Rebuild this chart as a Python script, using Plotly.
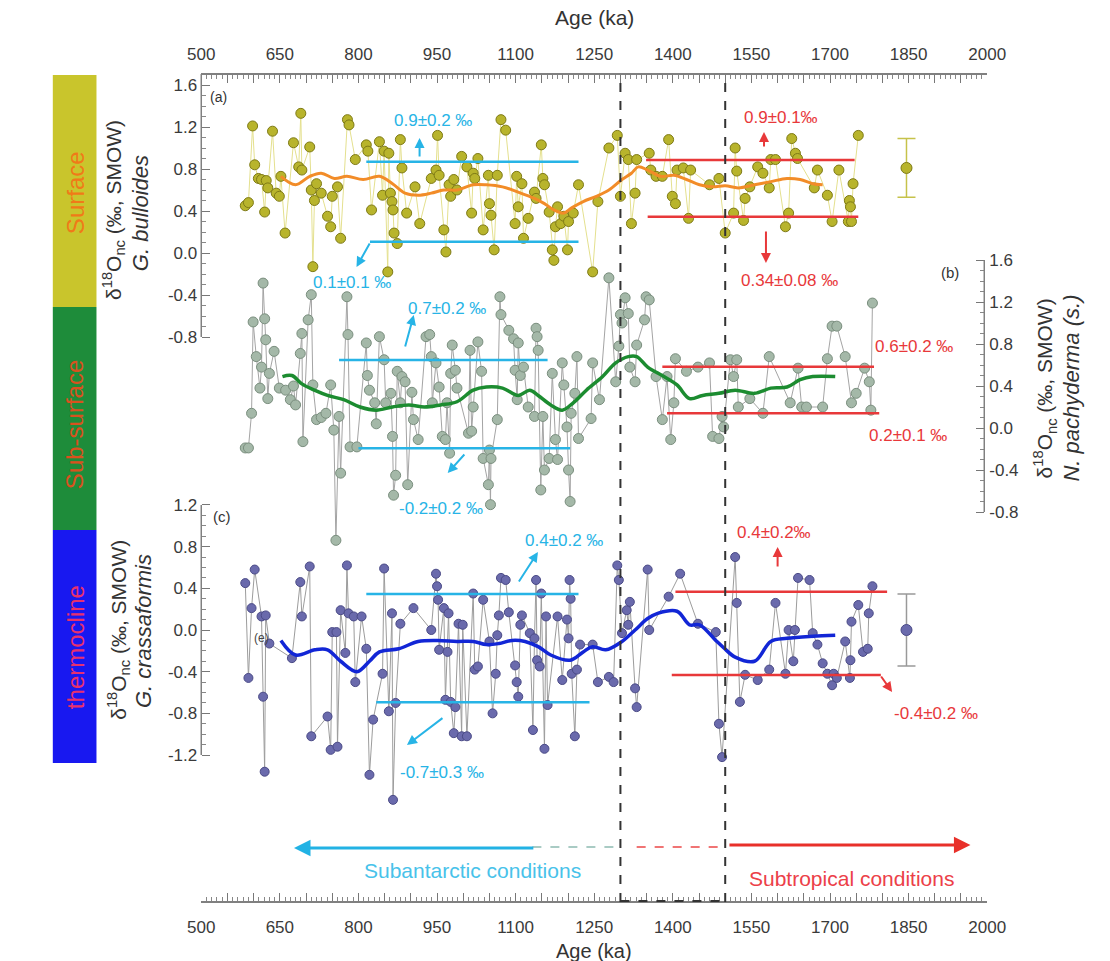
import plotly.graph_objects as go
import numpy as np

W, H = 1110, 961
X0PX, X1PX = 193, 1003      # plot area horizontal extent (px)
YTOP, YBOT = 74, 902        # plot area vertical extent (px)
XMIN, XMAX = 500, 2000
SCALE = (X1PX - X0PX) / (XMAX - XMIN)


def pxx(x):
    return x / W


def pxy(y):
    return 1 - y / H


FONT = "Liberation Sans, Arial, sans-serif"

# ---------------- data ----------------
# (a) Surface: G. bulloides
age_a = [584, 590, 598, 602, 609, 615, 621, 624, 627, 636,
         643, 649, 652, 660, 676, 686, 690, 692, 707, 710,
         713, 716, 720, 729, 741, 747, 750, 760, 766, 779,
         782, 794, 815, 818, 825, 840, 846, 849, 856, 858,
         861, 864, 866, 868, 874, 880, 883, 892, 908, 917,
         939, 948, 951, 954, 963, 967, 973, 976, 982, 988,
         997, 1007, 1016, 1019, 1022, 1028, 1038, 1048, 1050, 1053,
         1059, 1065, 1072, 1081, 1099, 1102, 1105, 1112, 1115, 1124,
         1136, 1139, 1149, 1152, 1155, 1164, 1170, 1173, 1176, 1180,
         1186, 1192, 1199, 1201, 1210, 1220, 1247, 1257, 1278, 1294,
         1300, 1309, 1315, 1321, 1328, 1331, 1355, 1358, 1368, 1380,
         1392, 1399, 1405, 1408, 1420, 1430, 1434, 1470, 1488, 1500,
         1516, 1519, 1522, 1535, 1538, 1547, 1562, 1572, 1584, 1587,
         1596, 1615, 1621, 1627, 1634, 1638, 1670, 1676, 1695, 1704,
         1717, 1735, 1737, 1739, 1741, 1744, 1754]
d18o_a = [0.45, 0.48, 1.21, 0.84, 0.71, 0.70, 0.39, 0.69, 0.62, 1.16,
          0.57, 0.54, 0.73, 0.19, 1.05, 0.82, 1.33, 0.79, 1.01, 0.60,
          -0.13, 0.50, 0.66, 0.57, 0.35, 0.25, 0.54, 0.63, 0.14, 1.27,
          1.22, 0.89, 1.03, 0.97, 0.41, 1.06, 0.55, 0.97, -0.18, 0.95,
          0.57, 0.49, 0.41, 0.19, 0.09, 1.08, 0.81, 0.38, 0.63, 0.28,
          0.71, 0.79, 1.12, 0.74, 0.22, 0.01, 0.65, 0.54, 0.70, 0.60,
          0.92, 0.82, 0.38, 0.76, 0.71, 0.90, 0.22, 0.74, 0.47, 0.36,
          0.03, 0.74, 1.27, 1.17, 0.28, 0.73, 0.44, 0.66, 0.14, 0.33,
          0.58, 0.52, 1.03, 0.71, 0.65, 0.39, 0.03, -0.07, 0.25, 0.44,
          0.28, 0.35, 0.03, 0.30, 0.38, 0.65, -0.18, 0.49, 1.00, 1.12,
          0.54, 0.95, 0.89, 0.28, 0.57, 0.89, 0.95, 0.79, 0.73, 0.73,
          1.08, 0.54, 0.47, 0.79, 0.81, 0.33, 0.79, 0.65, 0.71, 0.19,
          0.38, 1.00, 0.78, 0.31, 0.52, 0.63, 0.82, 0.76, 0.62, 0.89,
          0.89, 0.25, 0.38, 1.09, 0.95, 0.90, 0.62, 0.79, 0.55, 0.30,
          0.79, 0.30, 0.50, 0.44, 0.30, 0.66, 1.12]
smooth_age_a = [652, 680, 707, 729, 754, 778, 809, 840, 865, 889,
                914, 939, 963, 988, 1019, 1044, 1075, 1105, 1136, 1155,
                1173, 1192, 1207, 1229, 1254, 1278, 1303, 1321, 1334, 1352,
                1377, 1402, 1426, 1451, 1476, 1500, 1525, 1556, 1587, 1618,
                1643, 1667, 1686]
smooth_a = [0.73, 0.65, 0.73, 0.76, 0.71, 0.73, 0.70, 0.73, 0.66, 0.57,
            0.55, 0.57, 0.60, 0.60, 0.65, 0.65, 0.63, 0.58, 0.52, 0.47,
            0.41, 0.38, 0.43, 0.49, 0.54, 0.60, 0.70, 0.76, 0.82, 0.79,
            0.73, 0.74, 0.70, 0.65, 0.63, 0.64, 0.62, 0.65, 0.68, 0.71,
            0.70, 0.66, 0.65]

# (b) Sub-surface: N. pachyderma (s.)
age_b = [584, 590, 596, 599, 605, 612, 615, 618, 621, 623,
         627, 630, 639, 649, 661, 670, 676, 680, 689, 692,
         694, 704, 710, 713, 720, 729, 738, 747, 753, 757,
         763, 766, 778, 780, 784, 797, 815, 817, 821, 831,
         834, 840, 849, 852, 862, 865, 867, 871, 874, 880,
         883, 889, 894, 902, 905, 914, 929, 936, 939, 941,
         948, 954, 960, 966, 969, 974, 976, 979, 985, 988,
         1010, 1013, 1016, 1019, 1028, 1035, 1038, 1048, 1050, 1052,
         1053, 1065, 1070, 1072, 1087, 1096, 1099, 1103, 1105, 1109,
         1115, 1124, 1136, 1139, 1141, 1143, 1148, 1152, 1155, 1164,
         1170, 1176, 1180, 1189, 1192, 1198, 1201, 1204, 1206, 1213,
         1217, 1220, 1244, 1247, 1260, 1278, 1291, 1297, 1300, 1303,
         1309, 1315, 1318, 1328, 1331, 1346, 1349, 1355, 1368, 1380,
         1389, 1396, 1402, 1405, 1426, 1448, 1470, 1476, 1488, 1494,
         1497, 1510, 1516, 1522, 1525, 1547, 1572, 1584, 1624, 1639,
         1646, 1655, 1686, 1695, 1704, 1713, 1729, 1741, 1750, 1766,
         1775, 1778, 1781]
d18o_b = [-0.19, -0.19, 0.14, 1.01, 0.68, 0.38, 0.58, 1.38, 1.04, 0.84,
          0.28, 0.52, 0.73, 0.38, 0.36, 0.27, 0.40, 0.22, 0.71, 0.90,
          -0.13, 1.03, 1.27, 0.41, 0.08, 0.10, 0.14, 0.41, -0.02, -1.07,
          0.11, -0.43, 1.25, 0.89, -0.18, -0.18, 0.81, 0.50, 0.36, 0.24,
          0.04, 0.87, 0.65, 0.24, 0.33, -0.08, -0.64, -0.45, 0.54, 0.24,
          0.49, 0.44, -0.54, 0.34, 0.08, -0.11, 0.87, 0.89, 0.68, 0.24,
          0.62, 0.39, -0.08, -0.11, 0.24, -0.24, 0.52, 0.79, 0.55, 0.38,
          -0.05, 0.74, -0.03, 0.20, 0.82, 0.54, -0.29, -0.54, -0.21, -0.73,
          -0.29, 0.08, 1.25, 1.08, 0.93, 0.85, 0.55, 0.27, 0.81, 0.50,
          0.58, 0.20, 0.11, 0.95, 0.87, 0.74, -0.59, 0.11, -0.40, -0.29,
          0.52, -0.11, -0.30, 0.62, 0.41, 0.01, -0.40, -0.70, 0.14, 0.33,
          0.68, -0.10, 0.09, 0.62, 0.27, 1.43, 0.44, 0.78, 1.08, 1.00,
          1.24, 1.09, 0.58, 0.44, 0.79, 1.03, 1.25, 1.22, 0.49, 0.08,
          0.49, -0.11, 0.24, 0.66, 0.54, 0.58, 0.62, -0.08, -0.10, 0.11,
          0.01, 0.65, 0.49, 0.65, 0.20, 0.28, 0.14, 0.68, 0.24, 0.57,
          0.20, 0.20, 0.20, 0.66, 0.97, 0.97, 0.68, 0.24, 0.33, 0.57,
          0.44, 0.17, 1.19]
smooth_age_b = [655, 673, 692, 716, 741, 772, 803, 834, 865, 896,
                926, 957, 988, 1019, 1044, 1075, 1105, 1127, 1143, 1167,
                1189, 1210, 1235, 1266, 1291, 1315, 1331, 1352, 1383, 1408,
                1432, 1457, 1488, 1519, 1556, 1587, 1618, 1643, 1667, 1710]
smooth_b = [0.49, 0.50, 0.42, 0.36, 0.31, 0.27, 0.20, 0.17, 0.20, 0.22,
            0.20, 0.22, 0.25, 0.36, 0.39, 0.38, 0.31, 0.36, 0.31, 0.22,
            0.17, 0.24, 0.36, 0.49, 0.62, 0.68, 0.68, 0.58, 0.49, 0.41,
            0.28, 0.31, 0.33, 0.36, 0.33, 0.38, 0.39, 0.46, 0.49, 0.49]

# (c) Thermocline: G. crassaformis
age_c = [584, 590, 596, 602, 615, 618, 621, 623, 630, 673,
         689, 692, 707, 710, 741, 747, 750, 758, 760, 766,
         775, 778, 781, 791, 794, 806, 815, 821, 828, 846,
         849, 858, 864, 866, 871, 880, 905, 939, 948, 950,
         952, 954, 963, 966, 970, 972, 976, 982, 985, 991,
         997, 999, 1007, 1019, 1022, 1028, 1038, 1050, 1056, 1062,
         1065, 1068, 1072, 1081, 1087, 1099, 1102, 1105, 1109, 1112,
         1127, 1133, 1136, 1139, 1141, 1146, 1149, 1155, 1158, 1161,
         1180, 1189, 1198, 1201, 1203, 1205, 1207, 1213, 1217, 1223,
         1247, 1257, 1278, 1287, 1294, 1297, 1303, 1312, 1315, 1318,
         1328, 1331, 1352, 1355, 1392, 1414, 1448, 1482, 1488, 1494,
         1519, 1522, 1528, 1538, 1562, 1584, 1596, 1615, 1621, 1630,
         1633, 1639, 1661, 1667, 1676, 1686, 1695, 1704, 1707, 1713,
         1729, 1738, 1739, 1741, 1754, 1763, 1772, 1774, 1781]
d18o_c = [0.45, -0.46, 0.21, 0.58, 0.13, -0.64, -1.36, 0.14, -0.13, -0.27,
          0.46, 0.13, 0.61, -1.02, -0.83, -1.15, -0.02, -0.02, -1.12, 0.19,
          -0.22, 0.62, 0.16, 0.13, -0.50, 0.13, -0.18, -1.39, -0.86, -0.42,
          0.59, -0.78, 0.16, -1.63, -0.70, 0.06, 0.21, 0.00, 0.54, 0.42,
          0.29, -0.19, 0.21, -0.67, -0.21, 0.16, -0.69, -0.99, -0.74, 0.06,
          -1.02, 0.05, -1.02, 0.35, -0.38, -0.35, 0.29, -0.11, -0.80, -0.42,
          -0.05, 0.14, 0.50, 0.48, 0.17, -0.34, -0.50, -0.64, 0.05, 0.14,
          -0.03, -0.96, -0.08, 0.48, -0.29, -0.35, 0.35, -1.14, 0.13, -0.72,
          0.13, -0.48, 0.10, -0.08, 0.48, 0.30, -0.42, -1.02, -0.38, -0.14,
          -0.14, -0.50, -0.45, -0.50, 0.62, 0.48, -0.03, 0.19, 0.05, 0.27,
          -0.56, -0.74, 0.58, 0.00, 0.32, 0.54, 0.06, -0.02, -0.90, -1.22,
          0.70, 0.26, -0.69, -0.43, -0.48, -0.38, 0.26, -0.42, 0.00, -0.30,
          0.00, 0.50, 0.48, -0.03, -0.14, -0.32, -0.42, -0.53, -0.42, -0.46,
          -0.11, -0.46, -0.29, 0.08, 0.24, -0.21, -0.18, 0.16, 0.42]
smooth_age_c = [652, 680, 717, 741, 766, 797, 821, 840, 877, 914,
                951, 988, 1019, 1044, 1068, 1093, 1118, 1143, 1167, 1204,
                1229, 1247, 1272, 1303, 1328, 1352, 1371, 1408, 1432, 1451,
                1482, 1497, 1519, 1556, 1587, 1618, 1667, 1710]
smooth_c = [-0.10, -0.24, -0.19, -0.19, -0.30, -0.40, -0.30, -0.21, -0.18, -0.11,
            -0.10, -0.11, -0.11, -0.14, -0.13, -0.10, -0.11, -0.16, -0.24, -0.29,
            -0.21, -0.16, -0.19, -0.11, 0.00, 0.11, 0.16, 0.18, 0.05, 0.05,
            -0.10, -0.17, -0.26, -0.30, -0.11, -0.08, -0.06, -0.05]

# mean levels (start age, end age, value) for each period
levels_a_sub = [(815, 1220, 0.87), (822, 1220, 0.107)]
levels_a_trop = [(1349, 1747, 0.886), (1352, 1754, 0.346)]
levels_b_sub = [(763, 1161, 0.648), (800, 1204, -0.194)]
levels_b_trop = [(1380, 1784, 0.584), (1389, 1794, 0.14)]
levels_c_sub = [(815, 1220, 0.346), (834, 1241, -0.694)]
levels_c_trop = [(1405, 1809, 0.368), (1398, 1797, -0.432)]

# analytical error examples
err_age = [1846]
err_a_mean, err_a_sd = [0.81], [0.28]
err_c_mean, err_c_sd = [0.0], [0.345]

# transition boundaries and condition arrows (ka)
transition = [1300, 1500]
cond_sub = (677, 1123)          # (arrow head, tail)
cond_sub_dash = (1132, 1299)
cond_trop_dash = (1331, 1500)
cond_trop = (1519, 1968)        # (tail, arrow head)

# ---------------- colours ----------------
CYAN = "#27b4e6"
RED = "#e8383a"

# ---------------- axes pixel mapping ----------------
A_ZERO, A_PPU = 253, 105.0
B_ZERO, B_PPU = 428, 105.0
C_ZERO, C_PPU = 630, 104.2
rangeA = [(A_ZERO - YBOT) / A_PPU, (A_ZERO - YTOP) / A_PPU]
rangeB = [(B_ZERO - YBOT) / B_PPU, (B_ZERO - YTOP) / B_PPU]
rangeC = [(C_ZERO - YBOT) / C_PPU, (C_ZERO - YTOP) / C_PPU]

fig = go.Figure()

# dummy (invisible) trace so the top axis is drawn
fig.add_trace(go.Scatter(x=age_a, y=d18o_a, xaxis="x2", yaxis="y", mode="markers",
                         marker=dict(opacity=0), hoverinfo="skip", showlegend=False))

# panel a
fig.add_trace(go.Scatter(x=age_a, y=d18o_a, yaxis="y", mode="lines+markers",
                         line=dict(color="#e4e08e", width=1),
                         marker=dict(size=10, color="#b8b42c", line=dict(color="#7e7a16", width=1)),
                         showlegend=False))
# panel b
fig.add_trace(go.Scatter(x=age_b, y=d18o_b, yaxis="y2", mode="lines+markers",
                         line=dict(color="#a4a4a4", width=1),
                         marker=dict(size=10, color="#a4b8a8", line=dict(color="#7a8e7e", width=1)),
                         showlegend=False))
# panel c
fig.add_trace(go.Scatter(x=age_c, y=d18o_c, yaxis="y3", mode="lines+markers",
                         line=dict(color="#9c9c9c", width=1),
                         marker=dict(size=9, color="#6a6aac", line=dict(color="#4a4a86", width=1)),
                         showlegend=False))

# smoothed curves
fig.add_trace(go.Scatter(x=smooth_age_a, y=smooth_a, yaxis="y", mode="lines",
                         line=dict(color="#f28c28", width=3, shape="spline"), showlegend=False))
fig.add_trace(go.Scatter(x=smooth_age_b, y=smooth_b, yaxis="y2", mode="lines",
                         line=dict(color="#1c8c30", width=3.5, shape="spline"), showlegend=False))
fig.add_trace(go.Scatter(x=smooth_age_c, y=smooth_c, yaxis="y3", mode="lines",
                         line=dict(color="#1226d6", width=3.5, shape="spline"), showlegend=False))

# mean levels
for lv, ax_, col in [(levels_a_sub, "y", CYAN), (levels_a_trop, "y", RED),
                     (levels_b_sub, "y2", CYAN), (levels_b_trop, "y2", RED),
                     (levels_c_sub, "y3", CYAN), (levels_c_trop, "y3", RED)]:
    for x0, x1, v in lv:
        fig.add_trace(go.Scatter(x=[x0, x1], y=[v, v], yaxis=ax_, mode="lines",
                                 line=dict(color=col, width=2.5), showlegend=False,
                                 hoverinfo="skip"))

# error bars
fig.add_trace(go.Scatter(x=err_age, y=err_a_mean, yaxis="y", mode="markers",
                         error_y=dict(type="data", array=err_a_sd, color="#c6c24a", thickness=1.5, width=9),
                         marker=dict(size=11, color="#b8b42c", line=dict(color="#7e7a16", width=1)),
                         showlegend=False))
fig.add_trace(go.Scatter(x=err_age, y=err_c_mean, yaxis="y3", mode="markers",
                         error_y=dict(type="data", array=err_c_sd, color="#999999", thickness=1.5, width=9),
                         marker=dict(size=11, color="#6a6aac", line=dict(color="#4a4a86", width=1)),
                         showlegend=False))

# ---------------- axes ----------------
xt = list(range(XMIN, XMAX + 1, 50))
xtt = [str(v) if (v - XMIN) % 150 == 0 else "" for v in xt]
tickfont = dict(family=FONT, size=17, color="#3a3a3a")
xcommon = dict(range=[XMIN, XMAX], tickmode="array", tickvals=xt, ticktext=xtt,
               ticks="inside", ticklen=8, tickwidth=1, tickcolor="#777",
               showline=True, linecolor="#808080", linewidth=1.5, showgrid=False,
               zeroline=False, tickfont=tickfont,
               minor=dict(tickmode="linear", tick0=XMIN, dtick=10, ticks="inside",
                          ticklen=4, tickcolor="#888", showgrid=False))


def ytick(lo, hi, step=0.4):
    n = int(round((hi - lo) / step))
    return [round(lo + i * step, 2) for i in range(n + 1)]


def yminor(lo, hi):
    n = int(round((hi - lo) / 0.1))
    return [round(lo + i * 0.1, 2) for i in range(n + 1)]


ta = ytick(-0.8, 1.6)
tb = ytick(-0.8, 1.6)
tc = ytick(-1.2, 1.2)


def yax(rng, tv, minor_hi, lo):
    return dict(range=rng, tickmode="array", tickvals=tv,
                ticktext=[f"{v:.1f}" for v in tv], ticks="inside", ticklen=8,
                tickwidth=1, tickcolor="#777", showline=False, showgrid=False,
                zeroline=False, tickfont=tickfont, ticklabelstandoff=4,
                minor=dict(tickmode="array", tickvals=yminor(lo, minor_hi), ticks="inside",
                           ticklen=4, tickcolor="#888", showgrid=False))


dom = [pxy(YBOT), pxy(YTOP)]
ya = yax(rangeA, ta, 1.7, -0.8)
ya.update(domain=dom, anchor="free", position=pxx(X0PX), side="left")
yb = yax(rangeB, tb, 1.6, -0.8)
yb.update(overlaying="y", anchor="free", position=pxx(1000), side="right")
yc = yax(rangeC, tc, 1.2, -1.2)
yc.update(overlaying="y", anchor="free", position=pxx(X0PX), side="left")

xa = dict(xcommon)
xa.update(domain=[pxx(X0PX), pxx(X1PX)], anchor="free", position=pxy(YBOT), side="bottom",
          ticklabelstandoff=10)
xb = dict(xcommon)
xb.update(overlaying="x", anchor="free", position=pxy(YTOP), side="top",
          ticklabelstandoff=6)

# ---------------- shapes ----------------
shapes = []
AX = dict(color="#808080", width=1.5)
shapes.append(dict(type="line", xref="paper", yref="y", x0=pxx(X0PX), x1=pxx(X0PX),
                   y0=-0.8, y1=rangeA[1], line=AX))
shapes.append(dict(type="line", xref="paper", yref="y2", x0=pxx(1000), x1=pxx(1000),
                   y0=-0.8, y1=1.6, line=AX))
shapes.append(dict(type="line", xref="paper", yref="y3", x0=pxx(X0PX), x1=pxx(X0PX),
                   y0=-1.2, y1=1.2, line=AX))
# transition boundaries
for t in transition:
    shapes.append(dict(type="line", xref="x", yref="paper", x0=t, x1=t,
                       y0=pxy(YBOT), y1=pxy(YTOP + 2),
                       line=dict(color="#333333", width=2, dash="dash")))
shapes.append(dict(type="line", xref="x", yref="paper", x0=transition[0], x1=transition[1],
                   y0=pxy(YBOT - 1), y1=pxy(YBOT - 1),
                   line=dict(color="#333333", width=2, dash="dash")))
# condition dashed lines
YCOND = 847
shapes.append(dict(type="line", xref="x", yref="paper", x0=cond_sub_dash[0], x1=cond_sub_dash[1],
                   y0=pxy(YCOND), y1=pxy(YCOND), line=dict(color="#a9cbc4", width=2, dash="dash")))
shapes.append(dict(type="line", xref="x", yref="paper", x0=cond_trop_dash[0], x1=cond_trop_dash[1],
                   y0=pxy(YCOND), y1=pxy(YCOND), line=dict(color="#f07474", width=2, dash="dash")))
# left colour bars
bars = [(75, 307, "#c9c52c"), (307, 530, "#1e8c3a"), (530, 763, "#1818f0")]
for y0, y1, c in bars:
    shapes.append(dict(type="rect", xref="paper", yref="paper", x0=pxx(40), x1=pxx(85),
                       y0=pxy(y1), y1=pxy(y0), fillcolor=c, line=dict(width=0)))

# ---------------- annotations ----------------
ann = []


def text(x, y, s, color="#333", size=16, angle=0, xanchor="center"):
    ann.append(dict(x=pxx(x), y=pxy(y), xref="paper", yref="paper", text=s, showarrow=False,
                    textangle=angle, xanchor=xanchor, yanchor="middle",
                    font=dict(family=FONT, size=size, color=color)))


def arrow(hx, hy, tx, ty, color, width=2, size=1.0):
    ann.append(dict(x=pxx(hx), y=pxy(hy), xref="paper", yref="paper", text="",
                    ax=tx - hx, ay=ty - hy, showarrow=True, arrowhead=2, arrowsize=size,
                    arrowwidth=width, arrowcolor=color, standoff=0))


# axis titles
text(598, 17, "Age (ka)", "#333", 21)
text(598, 951, "Age (ka)", "#333", 20)
text(102, 210, "δ<sup>18</sup>O<sub>nc</sub> (‰, SMOW)", "#333", 21, -90)
text(130, 213, "<i>G. bulloides</i>", "#333", 22, -90)
text(107, 630, "δ<sup>18</sup>O<sub>nc</sub> (‰, SMOW)", "#333", 21, -90)
text(133, 631, "<i>G. crassaformis</i>", "#333", 22, -90)
text(1063, 388, "δ<sup>18</sup>O<sub>nc</sub> (‰, SMOW)", "#333", 21, -90)
text(1090, 388, "<i>N. pachyderma (s.)</i>", "#333", 22, -90)

# water-mass labels
text(63, 193, "Surface", "#f07a18", 24, -90)
text(63, 425, "Sub-surface", "#d8521e", 24, -90)
text(63, 647, "thermocline", "#e8306e", 24, -90)

# panel labels
text(211, 97, "(a)", "#333", 14)
text(965, 272, "(b)", "#333", 15)
text(214, 516, "(c)", "#333", 15)
text(255, 638, "(e)", "#444", 12)

# cyan (subantarctic) mean labels
text(432, 120, "0.9±0.2 ‰", CYAN, 17)
text(348, 282, "0.1±0.1 ‰", CYAN, 17)
text(446, 308, "0.7±0.2 ‰", CYAN, 17)
text(440, 508, "-0.2±0.2 ‰", CYAN, 17)
text(567, 540, "0.4±0.2 ‰", CYAN, 17)
text(441, 772, "-0.7±0.3 ‰", CYAN, 17)
# red (subtropical) mean labels
text(790, 117, "0.9±0.1‰", RED, 17)
text(799, 280, "0.34±0.08 ‰", RED, 17)
text(928, 347, "0.6±0.2 ‰", RED, 17)
text(921, 435, "0.2±0.1 ‰", RED, 17)
text(783, 532, "0.4±0.2‰", RED, 17)
text(950, 713, "-0.4±0.2 ‰", RED, 17)

# small arrows
arrow(418, 138, 418, 158, CYAN)
arrow(353, 267, 367, 242, CYAN)
arrow(412, 315, 403, 348, CYAN)
arrow(447, 473, 465, 453, CYAN)
arrow(540, 552, 520, 583, CYAN)
arrow(405, 745, 442, 717, CYAN)
arrow(773, 132, 773, 148, RED)
arrow(775, 263, 775, 230, RED)
arrow(787, 547, 787, 568, RED)
arrow(905, 692, 893, 675, RED)

# condition arrows
ann.append(dict(x=cond_sub[0], y=pxy(YCOND + 1), xref="x", yref="paper", text="",
                ax=(cond_sub[1] - cond_sub[0]) * SCALE, ay=0, showarrow=True, arrowhead=2,
                arrowsize=1.1, arrowwidth=3, arrowcolor="#22b2e4", standoff=0))
ann.append(dict(x=cond_trop[1], y=pxy(YCOND - 2), xref="x", yref="paper", text="",
                ax=-(cond_trop[1] - cond_trop[0]) * SCALE, ay=0, showarrow=True, arrowhead=2,
                arrowsize=1.1, arrowwidth=3, arrowcolor="#e8302a", standoff=0))
text(473, 870, "Subantarctic conditions", "#48c2ea", 21)
text(863, 878, "Subtropical conditions", "#ec4048", 21)

fig.update_layout(
    width=W, height=H, margin=dict(l=0, r=0, t=0, b=0),
    paper_bgcolor="white", plot_bgcolor="white",
    xaxis=xa, xaxis2=xb, yaxis=ya, yaxis2=yb, yaxis3=yc,
    shapes=shapes, annotations=ann, showlegend=False,
    font=dict(family=FONT),
)

fig.write_html("out.html")
